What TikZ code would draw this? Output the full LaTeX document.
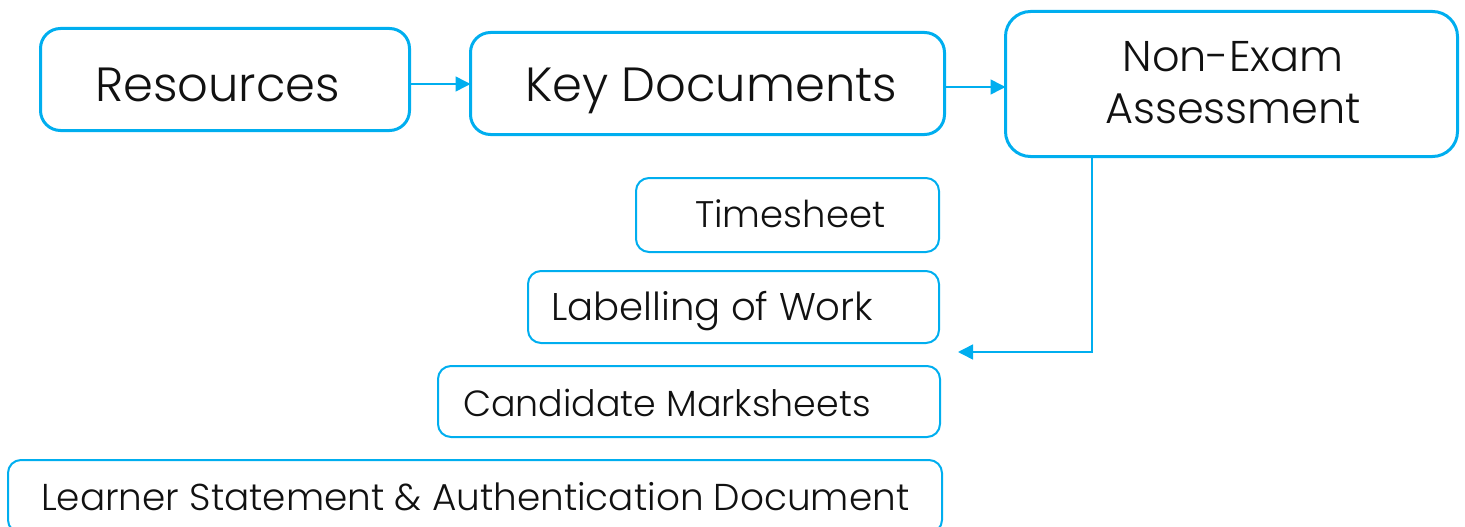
\documentclass[tikz,border=0pt]{standalone}
\usepackage{fontspec}
\setmainfont{Poppins Light}
\usetikzlibrary{arrows.meta}
\definecolor{cy}{HTML}{00AEEF}
\definecolor{ink}{HTML}{111111}
\begin{document}
\begin{tikzpicture}[x=1pt,y=-1pt,
  bigbox/.style={draw=cy,line width=3pt,rounded corners=20pt,inner sep=0pt,outer sep=0pt},
  smallbox/.style={draw=cy,line width=2pt,rounded corners=13pt,inner sep=0pt,outer sep=0pt},
  conn/.style={draw=cy,line width=1.5pt,-{Triangle[length=15pt,width=15pt]}},
  bigtxt/.style={inner sep=0pt,text=ink,font=\fontsize{48}{58}\selectfont},
  neatxt/.style={inner sep=0pt,text=ink,font=\fontsize{43}{51}\selectfont},
  smtxt/.style={inner sep=0pt,text=ink,font=\fontsize{37}{44}\selectfont}]
\useasboundingbox (0,0) rectangle (1465,527);
% boxes
\node[bigbox,minimum width=369pt,minimum height=102pt] (res) at (225,79.5) {};
\node[bigbox,minimum width=474pt,minimum height=102pt] (key) at (707.5,83.5) {};
\node[bigbox,rounded corners=25pt,minimum width=452pt,minimum height=145pt] (nea) at (1231.5,84) {};
\node[smallbox,minimum width=303pt,minimum height=74pt] (tim) at (787.5,215) {};
\node[smallbox,minimum width=411pt,minimum height=72pt] (lab) at (733.5,307) {};
\node[smallbox,minimum width=502pt,minimum height=71pt] (can) at (689,401.5) {};
\node[smallbox,minimum width=934pt,minimum height=73pt] (lea) at (475,496.5) {};
% texts
\node[bigtxt,anchor=base west] (tres) at (95,102) {Resources};
\node[bigtxt,anchor=base west] (tkey) at (525,101) {Key Documents};
\node[neatxt,anchor=base] (tnea1) at (1233,72) {Non-Exam};
\node[neatxt,anchor=base] (tnea2) at (1233,123) {Assessment};
\node[smtxt,anchor=base west] (ttim) at (695,227) {Timesheet};
\node[smtxt,anchor=base west,font=\fontsize{38.6}{44}\selectfont] (tlab) at (551,320) {Labelling of Work};
\node[smtxt,anchor=base west,font=\fontsize{36.4}{44}\selectfont] (tcan) at (463,416) {Candidate Marksheets};
\node[smtxt,anchor=base west,font=\fontsize{37.4}{44}\selectfont] (tlea) at (41,510) {Learner Statement \& Authentication Document};
% connectors
\coordinate (tip) at (958,352);
\coordinate (bend) at (1092,352);
\draw[conn] (res.east |- 0,84) -- (key.west |- 0,84);
\draw[conn] (key.east |- 0,87) -- (nea.west |- 0,87);
\draw[conn] (nea.south) -| (bend) -- (tip);
\end{tikzpicture}
\end{document}
